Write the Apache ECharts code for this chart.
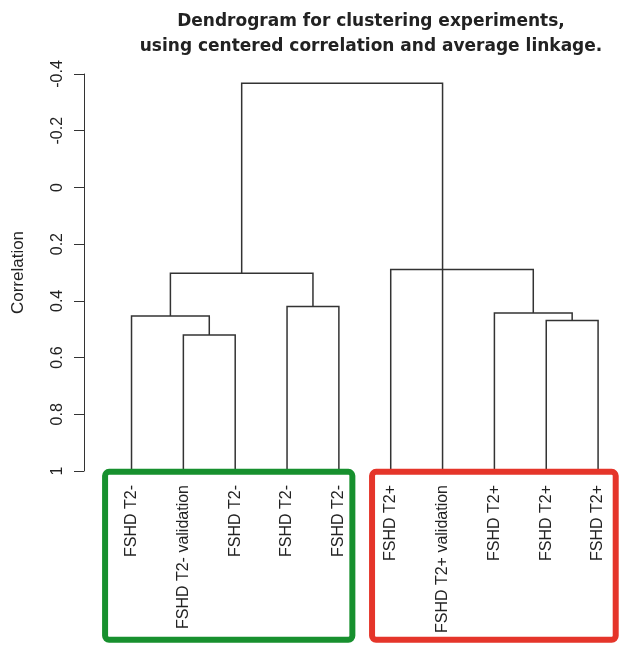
<!DOCTYPE html>
<html>
<head>
<meta charset="utf-8">
<style>html,body{margin:0;padding:0;background:#fff;}#chart{width:624px;height:645px;}</style>
<script src="https://cdn.jsdelivr.net/npm/echarts@6/dist/echarts.min.js"></script>
</head>
<body>
<div id="chart"></div>
<script>
// Leaf labels in dendrogram order
const leafLabels = ['FSHD T2-', 'FSHD T2- validation', 'FSHD T2-', 'FSHD T2-', 'FSHD T2-',
                    'FSHD T2+', 'FSHD T2+ validation', 'FSHD T2+', 'FSHD T2+', 'FSHD T2+'];
// Merges: left child position, right child position (leaf index units), merge height (correlation)
const mergeLeft   = [1,    0,     3,    0.75,  8,     7,     5,     2.125];
const mergeRight  = [2,    1.5,   4,    3.5,   9,     8.5,   7.75,  6];
const mergeHeight = [0.52, 0.453, 0.42, 0.303, 0.469, 0.443, 0.289, -0.367];
const leafHeight = 1;
// Y axis ticks
const yTicks = [-0.4, -0.2, 0, 0.2, 0.4, 0.6, 0.8, 1];
// Group boxes (leaf index units and correlation units)
const groupFrom  = [-0.51, 4.64];
const groupTo    = [4.26, 9.34];
const groupTop   = [1.003, 1.003];
const groupBottom= [1.595, 1.595];
const groupColor = ['#17902e', '#e5352a'];

function childHeight(pos) {
  for (let i = 0; i < mergeLeft.length; i++) {
    if (Math.abs((mergeLeft[i] + mergeRight[i]) / 2 - pos) < 1e-9) return mergeHeight[i];
  }
  return leafHeight;
}
const linkData = mergeLeft.map((l, i) => [l, mergeRight[i], mergeHeight[i], childHeight(l), childHeight(mergeRight[i])]);
const boxData = groupFrom.map((f, i) => [f, groupTo[i], groupTop[i], groupBottom[i], i]);

const chart = echarts.init(document.getElementById('chart'), null, {renderer: 'canvas'});
chart.setOption({
  animation: false,
  backgroundColor: '#ffffff',
  title: {
    text: 'Dendrogram for clustering experiments,\nusing centered correlation and average linkage.',
    left: 366, top: 4, textAlign: 'center',
    textStyle: {fontFamily: 'DejaVu Sans', fontWeight: 'bold', fontSize: 17, lineHeight: 25, color: '#222'}
  },
  grid: {left: 105.6, top: 74, width: 522, height: 397, containLabel: false},
  xAxis: [
    {type: 'value', min: -0.5, max: 9.5, show: false, position: 'bottom'},
    {type: 'category', data: leafLabels, position: 'bottom', boundaryGap: true,
     axisLine: {show: false}, axisTick: {show: false}, splitLine: {show: false},
     axisLabel: {rotate: 90, margin: 14, interval: 0, fontFamily: 'Liberation Sans', fontSize: 16, color: '#222'}}
  ],
  yAxis: {
    type: 'value', inverse: true, min: -0.4, max: 1, interval: 0.2, offset: 21.6,
    name: 'Correlation', nameLocation: 'middle', nameRotate: 90, nameGap: 57,
    nameTextStyle: {fontFamily: 'Liberation Sans', fontSize: 17, color: '#222'},
    axisLine: {show: true, onZero: false, lineStyle: {color: '#333', width: 1}},
    axisTick: {show: true, length: 10, lineStyle: {color: '#333', width: 1}},
    splitLine: {show: false},
    axisLabel: {rotate: 90, margin: 18, fontFamily: 'Liberation Sans', fontSize: 16, color: '#222',
      formatter: v => { const t = yTicks.find(x => Math.abs(x - v) < 1e-9); return t === undefined ? '' : String(t); }}
  },
  series: [
    {
      type: 'custom', xAxisIndex: 0, yAxisIndex: 0, data: linkData, clip: false,
      encode: {x: [0, 1], y: [2, 3, 4]},
      renderItem: (params, api) => {
        const p1 = api.coord([api.value(0), api.value(3)]);
        const p2 = api.coord([api.value(0), api.value(2)]);
        const p3 = api.coord([api.value(1), api.value(2)]);
        const p4 = api.coord([api.value(1), api.value(4)]);
        return {type: 'polyline', shape: {points: [p1, p2, p3, p4]},
                style: {stroke: '#333', lineWidth: 1.5, fill: null}};
      }
    },
    {
      type: 'custom', xAxisIndex: 0, yAxisIndex: 0, data: boxData, clip: false,
      encode: {x: [0, 1], y: [2]},
      renderItem: (params, api) => {
        const a = api.coord([api.value(0), api.value(2)]);
        const b = api.coord([api.value(1), api.value(3)]);
        return {type: 'rect', shape: {x: a[0], y: a[1], width: b[0] - a[0], height: b[1] - a[1], r: 4},
                style: {stroke: groupColor[api.value(4)], lineWidth: 6, fill: null}};
      }
    }
  ]
});
</script>
</body>
</html>
